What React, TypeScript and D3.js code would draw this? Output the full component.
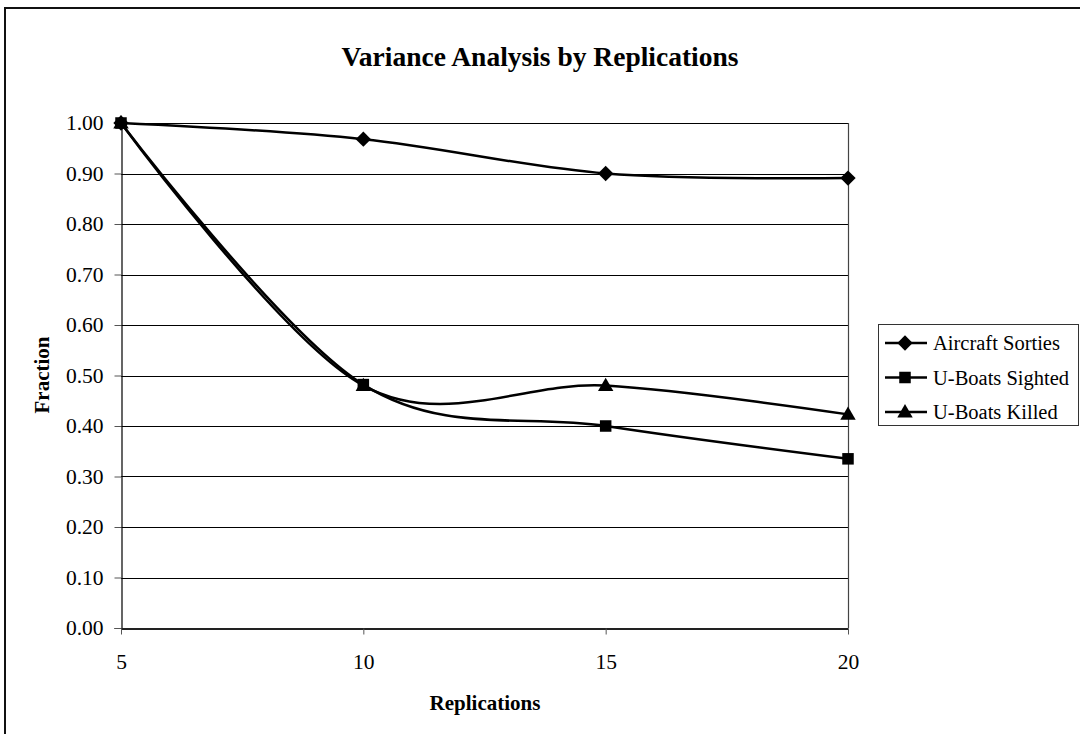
import React, {useEffect, useRef} from 'react';
import * as d3 from 'd3';

const replications = [5, 10, 15, 20];
const aircraftSorties = [1.0, 0.968, 0.9, 0.891];
const uboatsSighted = [1.0, 0.482, 0.4, 0.335];
const uboatsKilled = [1.0, 0.48, 0.48, 0.423];
const yTicks = [0, 0.1, 0.2, 0.3, 0.4, 0.5, 0.6, 0.7, 0.8, 0.9, 1.0];
const seriesNames = ['Aircraft Sorties', 'U-Boats Sighted', 'U-Boats Killed'];
const seriesValues = [aircraftSorties, uboatsSighted, uboatsKilled];
const markerTypes = [d3.symbolDiamond2, d3.symbolSquare2, d3.symbolTriangle2];

function App() {
  const chartRef = useRef(null);

  const W = 1080;
  const H = 734;
  const left = 121, right = 848, top = 123, bottom = 628;
  const font = "'Liberation Serif', 'Times New Roman', serif";

  const xScale = d3.scaleLinear().domain([5, 20]).range([left, right]);
  const yScale = d3.scaleLinear().domain([0, 1]).range([bottom, top]);

  useEffect(() => {
    const svg = d3.select(chartRef.current);
    svg.selectAll('*').remove();

    // outer frame
    svg.append('rect')
      .attr('x', 5).attr('y', 8)
      .attr('width', W + 20).attr('height', H + 20)
      .attr('fill', 'white').attr('stroke', '#111').attr('stroke-width', 2);

    svg.append('text')
      .attr('x', 540).attr('y', 66)
      .attr('text-anchor', 'middle')
      .style('font-family', font).attr('font-weight', 'bold').attr('font-size', 27.5)
      .text('Variance Analysis by Replications');

    // grid
    svg.append('g')
      .selectAll('line')
      .data(yTicks)
      .enter()
      .append('line')
      .attr('x1', left).attr('x2', right)
      .attr('y1', d => Math.round(yScale(d)) + 0.5)
      .attr('y2', d => Math.round(yScale(d)) + 0.5)
      .attr('stroke', '#000').attr('stroke-width', 1);

    // right border of plot
    svg.append('line')
      .attr('x1', right + 0.5).attr('x2', right + 0.5)
      .attr('y1', top).attr('y2', bottom)
      .attr('stroke', '#444').attr('stroke-width', 1.2);

    // y axis
    const yAxis = d3.axisLeft(yScale)
      .tickValues(yTicks)
      .tickSize(7)
      .tickFormat(d => (d as number).toFixed(2));
    const gy = svg.append('g')
      .attr('transform', `translate(${left + 0.5},0)`)
      .call(yAxis);
    gy.select('.domain').attr('stroke', '#000').attr('stroke-width', 1.2);
    gy.selectAll('.tick line').attr('stroke', '#555');
    gy.selectAll('.tick text')
      .style('font-family', font).attr('font-size', 21.5).attr('fill', '#000').attr('x', -18);

    // x axis
    const xAxis = d3.axisBottom(xScale)
      .tickValues(replications)
      .tickSize(6)
      .tickSizeOuter(0)
      .tickFormat(d => String(d));
    const gx = svg.append('g')
      .attr('transform', `translate(0,${bottom + 0.5})`)
      .call(xAxis);
    gx.select('.domain').attr('stroke', '#222').attr('stroke-width', 2);
    gx.selectAll('.tick line').attr('stroke', '#555');
    gx.selectAll('.tick text')
      .style('font-family', font).attr('font-size', 21.5).attr('fill', '#000').attr('y', 25);

    svg.append('text')
      .attr('x', 485).attr('y', 710)
      .attr('text-anchor', 'middle')
      .style('font-family', font).attr('font-weight', 'bold').attr('font-size', 21)
      .text('Replications');

    svg.append('text')
      .attr('transform', `translate(49,375) rotate(-90)`)
      .attr('text-anchor', 'middle')
      .style('font-family', font).attr('font-weight', 'bold').attr('font-size', 21)
      .text('Fraction');

    const line = d3.line<number>()
      .x((d, i) => xScale(replications[i]))
      .y(d => yScale(d))
      .curve(d3.curveCatmullRom.alpha(0));

    const sizes = [150, 169, 170];

    seriesValues.forEach((vals) => {
      svg.append('path')
        .datum(vals)
        .attr('d', line)
        .attr('fill', 'none')
        .attr('stroke', '#000')
        .attr('stroke-width', 2.5);
    });
    seriesValues.forEach((vals, si) => {
      svg.append('g')
        .selectAll('path')
        .data(vals)
        .enter()
        .append('path')
        .attr('transform', (d, i) => `translate(${xScale(replications[i])},${yScale(d) + (si === 2 ? 1 : 0)})`)
        .attr('d', d3.symbol().type(markerTypes[si]).size(sizes[si]))
        .attr('fill', '#000');
    });

    // legend
    const lg = svg.append('g');
    lg.append('rect')
      .attr('x', 878.5).attr('y', 324.5)
      .attr('width', 200).attr('height', 101)
      .attr('fill', 'white').attr('stroke', '#333').attr('stroke-width', 1);
    seriesNames.forEach((name, i) => {
      const y = 343 + i * 34.5;
      lg.append('line')
        .attr('x1', 885).attr('x2', 927)
        .attr('y1', y).attr('y2', y)
        .attr('stroke', '#000').attr('stroke-width', 2.5);
      lg.append('path')
        .attr('transform', `translate(905,${y + (i === 2 ? 1 : 0)})`)
        .attr('d', d3.symbol().type(markerTypes[i]).size(sizes[i]))
        .attr('fill', '#000');
      lg.append('text')
        .attr('x', 933).attr('y', y + 7)
        .style('font-family', font).attr('font-size', 20.5)
        .text(name);
    });
  }, []);

  return (
    <svg ref={chartRef} width={W} height={H}
      style={{position: 'absolute', left: 0, top: 0, background: 'white'}}/>
  );
}

export default App;
